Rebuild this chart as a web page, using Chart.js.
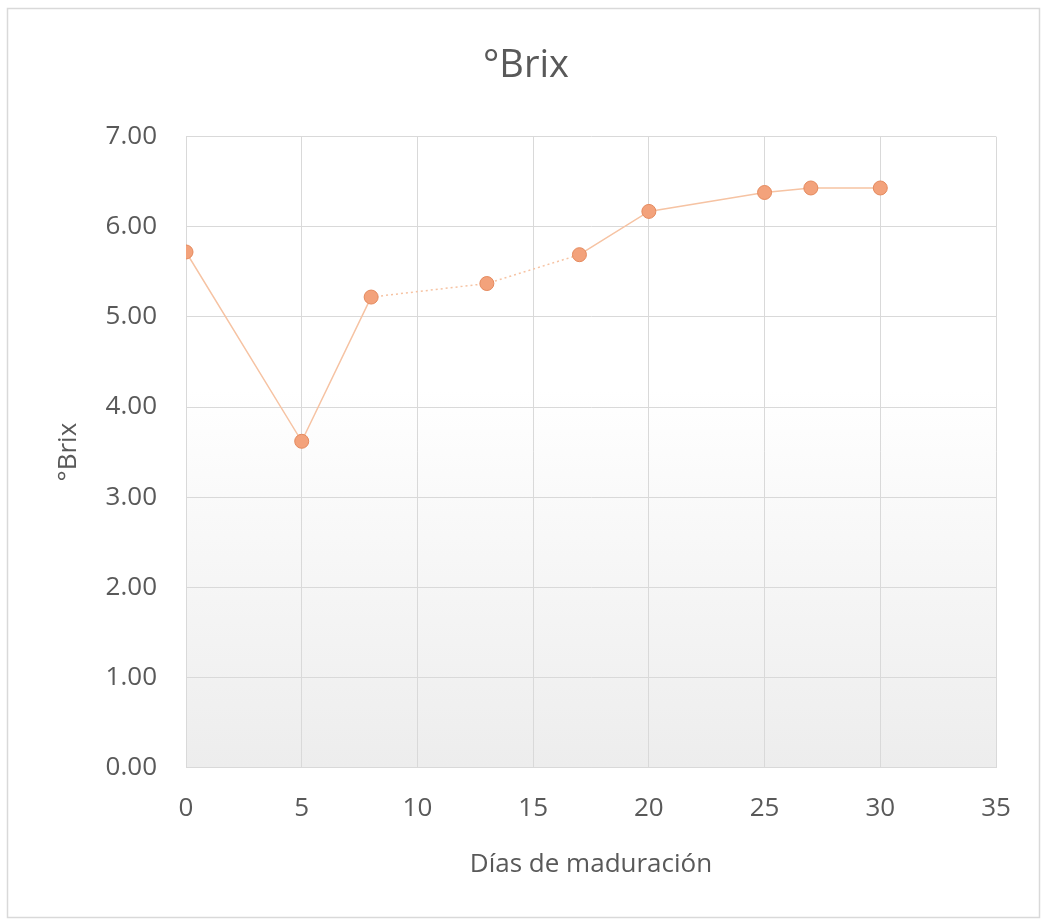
<!DOCTYPE html>
<html>
<head>
<meta charset="utf-8">
<script src="https://cdn.jsdelivr.net/npm/chart.js@4/dist/chart.umd.min.js"></script>
<style>
  html, body { margin: 0; padding: 0; background: #fff; }
  #wrap { width: 1050px; height: 920px; }
</style>
</head>
<body>
<div id="wrap"><canvas id="myChart" width="1050" height="920"></canvas></div>
<script>
// días de maduración vs °Brix
const days = [0, 5, 8, 13, 17, 20, 25, 27, 30];
const brix = [5.72, 3.62, 5.22, 5.37, 5.69, 6.17, 6.38, 6.43, 6.43];
const xTicks = [0, 5, 10, 15, 20, 25, 30, 35];
const yTicks = [0, 1, 2, 3, 4, 5, 6, 7];

const textColor = '#595959';
const gridColor = '#d9d9d9';

const frame = {
  id: 'frame',
  beforeDraw(chart) {
    const { ctx, chartArea: a } = chart;
    ctx.save();
    ctx.fillStyle = '#fff';
    ctx.fillRect(0, 0, chart.width, chart.height);
    ctx.strokeStyle = '#d9d9d9';
    ctx.lineWidth = 1.5;
    ctx.strokeRect(7.5, 8.5, 1032, 909);
    const g = ctx.createLinearGradient(0, a.top, 0, a.bottom);
    g.addColorStop(0, '#ffffff');
    g.addColorStop(0.4, '#ffffff');
    g.addColorStop(1, '#ededed');
    ctx.fillStyle = g;
    ctx.fillRect(a.left, a.top, a.right - a.left, a.bottom - a.top);
    ctx.restore();
  }
};

const ctx = document.getElementById('myChart').getContext('2d');
new Chart(ctx, {
  type: 'scatter',
  data: {
    datasets: [{
      label: '°Brix',
      data: days.map((d, i) => ({ x: d, y: brix[i] })),
      showLine: true,
      borderColor: '#f6c3a3',
      borderWidth: 1.5,
      tension: 0,
      pointRadius: 7,
      pointBackgroundColor: '#f3a27b',
      pointBorderColor: '#e58a5e',
      pointBorderWidth: 1,
      segment: {
        borderDash: c => (c.p0DataIndex === 2 || c.p0DataIndex === 3) ? [2, 3] : undefined
      }
    }]
  },
  options: {
    responsive: false,
    animation: false,
    layout: { padding: { left: 56, right: 54, top: 0, bottom: 40 } },
    plugins: {
      legend: { display: false },
      tooltip: { enabled: false },
      title: {
        display: true,
        text: '°Brix',
        color: textColor,
        font: { family: 'Open Sans', size: 38, weight: 'normal' },
        padding: { top: 43, bottom: 48 }
      }
    },
    scales: {
      x: {
        type: 'linear',
        min: 0,
        max: 35,
        afterBuildTicks: s => { s.ticks = xTicks.map(v => ({ value: v })); },
        grid: { color: gridColor, drawTicks: false },
        border: { color: gridColor },
        ticks: {
          color: textColor,
          padding: 25,
          font: { family: 'Open Sans', size: 26 }
        },
        title: {
          display: true,
          text: 'Días de maduración',
          color: textColor,
          font: { family: 'Open Sans', size: 26 },
          padding: { top: 0, bottom: 0 }
        }
      },
      y: {
        min: 0,
        max: 7,
        afterBuildTicks: s => { s.ticks = yTicks.map(v => ({ value: v })); },
        afterFit: s => { s.width = 130; },
        grid: { color: gridColor, drawTicks: false },
        border: { color: gridColor },
        ticks: {
          color: textColor,
          padding: 29,
          font: { family: 'Open Sans', size: 26 },
          callback: v => v.toFixed(2)
        },
        title: {
          display: true,
          text: '°Brix',
          color: textColor,
          font: { family: 'Open Sans', size: 26, lineHeight: 1 },
          padding: 0
        }
      }
    }
  },
  plugins: [frame]
});
</script>
</body>
</html>
